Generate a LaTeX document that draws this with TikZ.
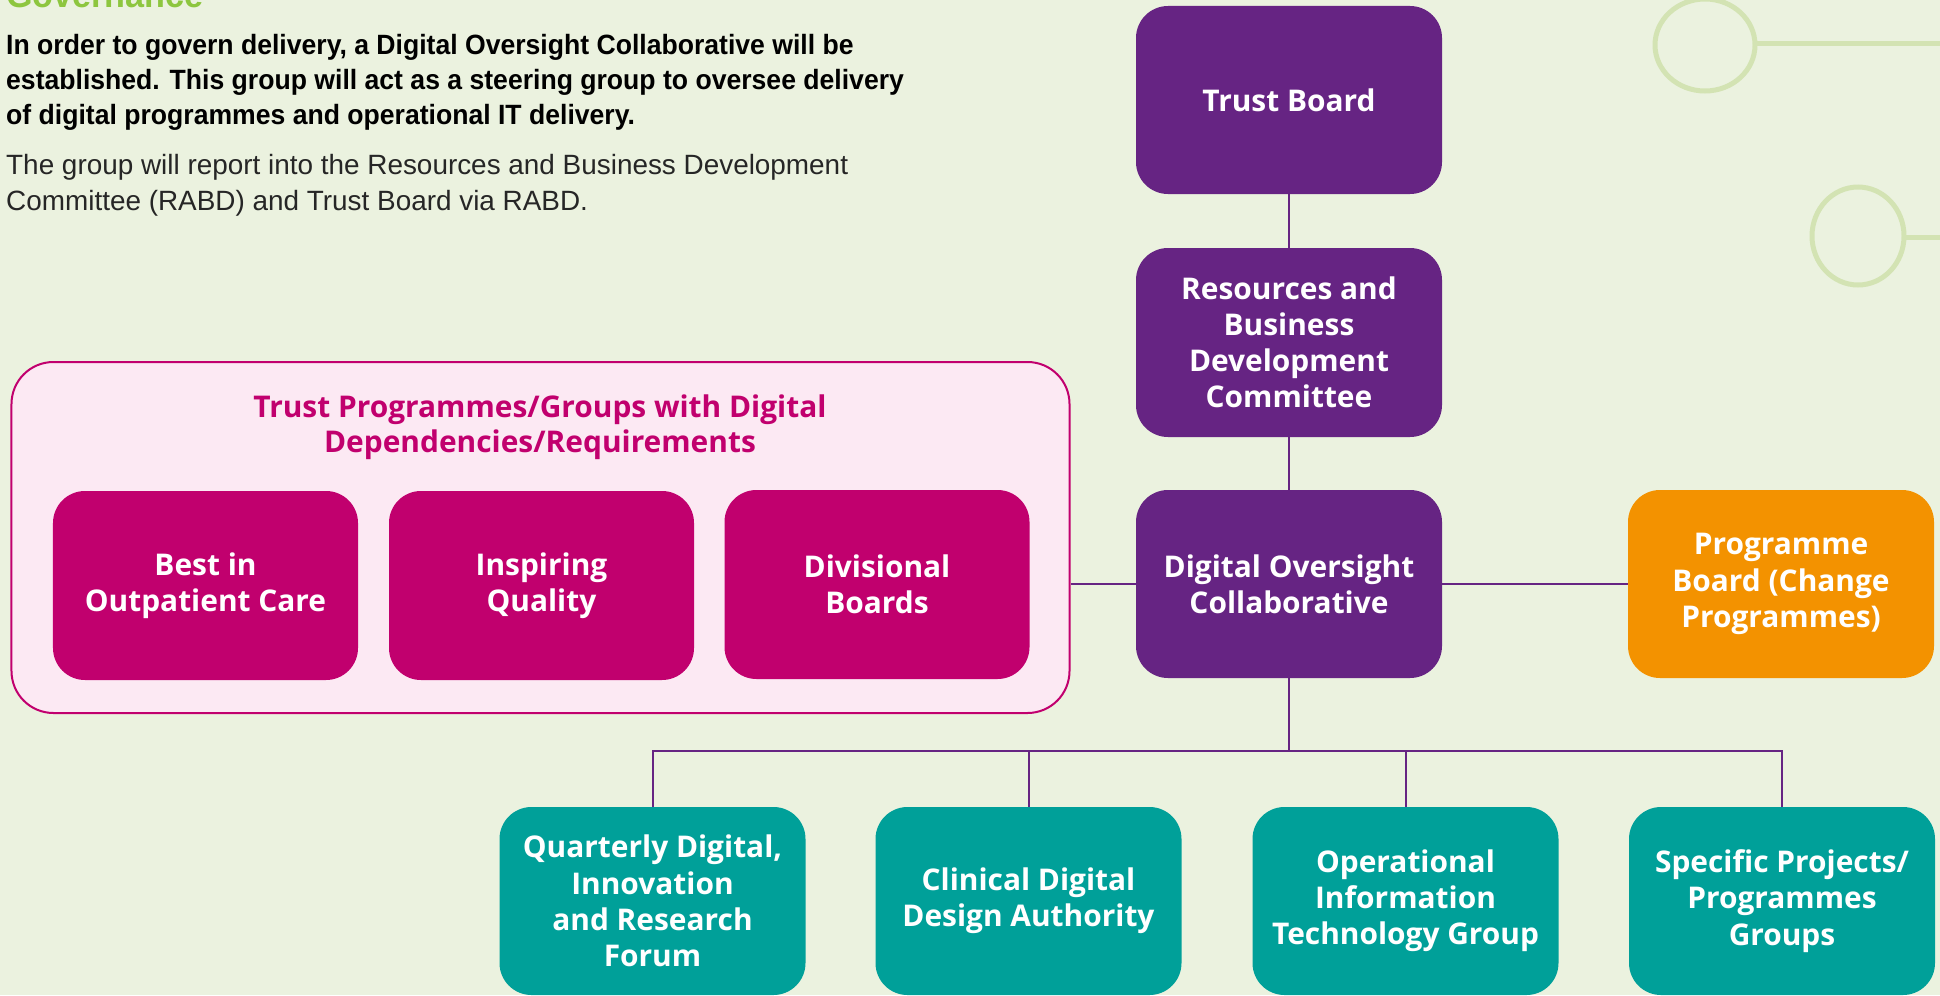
\documentclass[tikz,border=0pt]{standalone}
\usepackage{fontspec}
\setmainfont{Open Sans}
\newfontfamily\condfont[FakeStretch=0.953]{Liberation Sans}
\newfontfamily\plainfont[FakeStretch=1.0]{Liberation Sans}
\definecolor{bgcol}{RGB}{235,242,223}
\definecolor{decocol}{RGB}{211,227,179}
\definecolor{purp}{RGB}{102,36,131}
\definecolor{mag}{RGB}{193,0,110}
\definecolor{pinkfill}{RGB}{252,233,243}
\definecolor{teal}{RGB}{0,160,153}
\definecolor{orng}{RGB}{243,146,0}
\definecolor{govgreen}{RGB}{141,198,63}
\tikzset{
  boxbase/.style={rectangle, rounded corners=32bp, minimum width=306bp, minimum height=188bp,
    inner sep=0pt, align=center, text=white, font=\fontsize{30}{36.3}\selectfont\bfseries},
  purpbox/.style={boxbase, fill=purp},
  magbox/.style={boxbase, fill=mag, minimum width=305bp, minimum height=189bp},
  tealbox/.style={boxbase, fill=teal},
  orangebox/.style={boxbase, fill=orng},
  conn/.style={draw=purp, line width=2bp},
  deco/.style={draw=decocol, line width=5bp},
}
\begin{document}
\begin{tikzpicture}[x=1bp,y=-1bp]
\useasboundingbox (0,0) rectangle (1940,995);
\fill[bgcol] (0,0) rectangle (1940,995);
% decorations
\draw[deco] (1705,45) ellipse [x radius=50, y radius=46];
\draw[deco] (1755,43) -- (1940,43);
\draw[deco] (1858,236) ellipse [x radius=46, y radius=49];
\draw[deco] (1904,237) -- (1940,237);
% heading text
\node[anchor=base west, inner sep=0pt, text=govgreen, font=\condfont\fontsize{36}{40}\selectfont\bfseries] (gov) at (6,7) {Governance};
\node[anchor=north west, inner sep=0pt, align=left, font=\condfont\fontsize{28}{35}\selectfont\bfseries] (intro) at (6,34.5)
 {In order to govern delivery, a Digital Oversight Collaborative will be\\
  established. This group will act as a steering group to oversee delivery\\
  of digital programmes and operational IT delivery.};
\node[anchor=north west, inner sep=0pt, align=left, text=black!85, font=\plainfont\fontsize{28}{36}\selectfont] (report) at (6,154.5)
 {The group will report into the Resources and Business Development\\
  Committee (RABD) and Trust Board via RABD.};
% outer pink box
\node[rectangle, rounded corners=42bp, draw=mag, line width=2bp, fill=pinkfill,
  minimum width=1058bp, minimum height=351bp, inner sep=0pt] (outer) at (540.5,537.5) {};
\node[text=mag, align=center, inner sep=0pt, font=\fontsize{30}{35}\selectfont\bfseries] (outertitle) at (540,427)
 {Trust Programmes/Groups with Digital\\Dependencies/Requirements};
\node[magbox] (best) at (205.5,585.5) {Best in\\Outpatient Care};
\node[magbox] (insp) at (541.5,585.5) {Inspiring\\Quality};
\node[magbox] (div) at (877,584.5) {Divisional\\Boards};
% purple column
\node[purpbox] (tb) at (1289,100) {Trust Board};
\node[purpbox, minimum height=189bp] (rbdc) at (1289,342.5) {Resources and\\Business\\Development\\Committee};
\node[purpbox] (doc) at (1289,584) {Digital Oversight\\Collaborative};
\node[orangebox] (pb) at (1781,584) {Programme\\Board (Change\\Programmes)};
% bottom row
\node[tealbox] (q1) at (652.5,901) {Quarterly Digital,\\Innovation\\and Research\\Forum};
\node[tealbox] (q2) at (1028.5,901) {Clinical Digital\\Design Authority};
\node[tealbox] (q3) at (1405.5,901) {Operational\\Information\\Technology Group};
\node[tealbox] (q4) at (1782,901) {Specific Projects/\\Programmes\\Groups};
\coordinate (bar) at (1289,751);
% connectors
\draw[conn] (tb) -- (rbdc);
\draw[conn] (rbdc) -- (doc);
\draw[conn] (doc.west) -- (doc.west -| outer.east);
\draw[conn] (doc) -- (pb);
\draw[conn] (doc.south) -- (bar);
\draw[conn] (q1.north) |- (q4.north |- bar) -- (q4.north);
\draw[conn] (q2.north) -- (q2.north |- bar);
\draw[conn] (q3.north) -- (q3.north |- bar);
\end{tikzpicture}
\end{document}
